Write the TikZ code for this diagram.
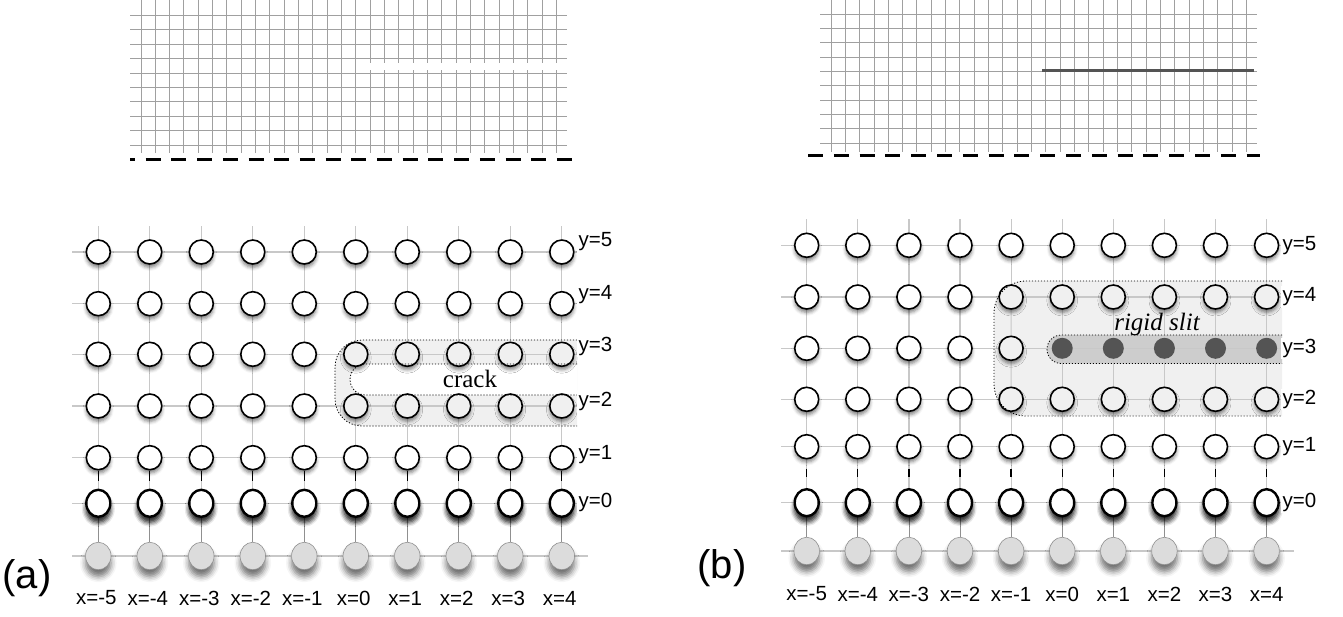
\documentclass[tikz,border=0pt]{standalone}
\usepackage{fontspec}
\setmainfont{Liberation Serif}
\setsansfont{Liberation Sans}
\usetikzlibrary{shapes.geometric,shadows.blur}
\definecolor{gridgray}{HTML}{A0A0A0}
\definecolor{linkgray}{HTML}{C8C8C8}
\definecolor{stemgray}{HTML}{909090}
\definecolor{zonegray}{HTML}{F0F0F0}
\definecolor{slitgray}{HTML}{CDCDCD}
\definecolor{bottomgray}{HTML}{DCDCDC}
\definecolor{rigidgray}{HTML}{545454}
\pgfdeclarelayer{zone}
\pgfdeclarelayer{links}
\pgfsetlayers{zone,links,main}

\begin{document}
\begin{tikzpicture}[x=1pt,y=-1pt]
	\tikzstyle{atom}=[circle,draw=black,fill=white,line width=1.6pt,minimum size=24pt,inner sep=0pt,blur shadow={shadow xshift=0pt,shadow yshift=-3.5pt,shadow blur radius=3.5pt,shadow opacity=50}]
	\tikzstyle{rowzero}=[atom,ellipse,line width=2.4pt,minimum width=24pt,minimum height=27pt,blur shadow={shadow xshift=0pt,shadow yshift=-5.5pt,shadow blur radius=4.5pt,shadow opacity=60}]
	\tikzstyle{substrate}=[ellipse,draw=stemgray,fill=bottomgray,line width=0.6pt,minimum width=25.5pt,minimum height=27.5pt,inner sep=0pt,blur shadow={shadow xshift=0pt,shadow yshift=-7pt,shadow blur radius=5.5pt,shadow opacity=55}]
	\tikzstyle{softatom}=[atom,fill=zonegray]
	\tikzstyle{rigid}=[circle,fill=rigidgray,minimum size=21pt,inner sep=0pt]
	\tikzstyle{rowlabel}=[font=\sffamily\fontsize{20.5}{24}\selectfont,fill=white,inner sep=1.5pt]
	\tikzstyle{link}=[linkgray,line width=1.2pt]
	\tikzstyle{stem}=[stemgray,line width=0.8pt]
	\tikzstyle{border}=[black,line width=0.8pt,dash pattern=on 1.2pt off 1.8pt]
	\useasboundingbox (0,0) rectangle (1343,616);

	\foreach \i in {0,...,29} \draw[gridgray,line width=1pt] ({141+\i*14.33},0) -- ({141+\i*14.33},153);
	\foreach \j in {0,...,9} \draw[gridgray,line width=1pt] (130,{15.3+\j*14.44}) -- (567,{15.3+\j*14.44});
	\draw[white,line width=7pt] (366,66.3) -- (560,66.3);
	\draw[line width=3.3pt,dash pattern=on 15pt off 10.7pt,dash phase=10pt] (130,159.3) -- (573,159.3);

	\foreach \i in {0,...,29} \draw[gridgray,line width=1pt] ({831+\i*14.33},0) -- ({831+\i*14.33},152);
	\foreach \j in {0,...,9} \draw[gridgray,line width=1pt] (820,{14+\j*14.37}) -- (1257,{14+\j*14.37});
	\draw[rigidgray,line width=3pt] (1042,70) -- (1254,70);
	\draw[line width=3.3pt,dash pattern=on 15pt off 10.8pt] (808,155.3) -- (1260,155.3);

	\foreach \x in {0,...,9}{
		\pgfmathsetmacro\xx{98.3+\x*51.5}
		\coordinate (AT\x) at (\xx,226);
		\foreach \j/\yy in {5/252,4/303.7,1/457.7}
			\node[atom] (A\x-\j) at (\xx,\yy) {};
		\node[rowzero] (A\x-0) at (\xx,503.3) {};
		\node[substrate] (A\x-g) at (\xx,556) {};
	}
	\foreach \x in {0,...,4}{
		\pgfmathsetmacro\xx{98.3+\x*51.5}
		\node[atom] (A\x-3) at (\xx,354.3) {};
		\node[atom] (A\x-2) at (\xx,406) {};
	}
	\foreach \x in {5,...,9}{
		\pgfmathsetmacro\xx{98.3+\x*51.5}
		\node[softatom] (A\x-3) at (\xx,354.3) {};
		\node[softatom] (A\x-2) at (\xx,406) {};
	}
	\foreach \j/\yy in {5/252,4/303.7,3/354.3,2/406,1/457.7,0/503.3,g/556}{
		\coordinate (AL\j) at (72,\yy);
		\coordinate (AR\j) at (588,\yy);
	}

	\foreach \x in {0,...,9}{
		\pgfmathsetmacro\xx{806.7+\x*51.1}
		\coordinate (BT\x) at (\xx,219);
		\foreach \j/\yy in {5/245.3,1/446.7}
			\node[atom] (B\x-\j) at (\xx,\yy) {};
		\node[rowzero] (B\x-0) at (\xx,502.7) {};
		\node[substrate] (B\x-g) at (\xx,551) {};
	}
	\foreach \x in {0,...,3}{
		\pgfmathsetmacro\xx{806.7+\x*51.1}
		\foreach \j/\yy in {4/297,3/348.3,2/399.3}
			\node[atom] (B\x-\j) at (\xx,\yy) {};
	}
	\foreach \x in {4,...,9}{
		\pgfmathsetmacro\xx{806.7+\x*51.1}
		\node[softatom] (B\x-4) at (\xx,297) {};
		\node[softatom] (B\x-2) at (\xx,399.3) {};
	}
	\node[softatom] (B4-3) at (1011.1,348.3) {};
	\foreach \x in {5,...,9}{
		\pgfmathsetmacro\xx{806.7+\x*51.1}
		\node[rigid] (B\x-3) at (\xx,348.3) {};
	}
	\foreach \j/\yy in {5/245.3,4/297,3/348.3,2/399.3,1/446.7,0/502.7,g/551}{
		\coordinate (BL\j) at (781,\yy);
		\coordinate (BR\j) at (1294,\yy);
	}

	\begin{pgfonlayer}{zone}
		\fill[zonegray,rounded corners=27pt] (577,340) -- (335,340) -- (335,426) -- (577,426);
		\fill[zonegray,rounded corners=32pt] (1282,281) -- (994,281) -- (994,416) -- (1282,416);
		\fill[slitgray,rounded corners=14.2pt] (1282,335) -- (1047,335) -- (1047,363.5) -- (1282,363.5);
	\end{pgfonlayer}

	\begin{pgfonlayer}{links}
		\foreach \p in {A,B}{
			\foreach \j in {5,4,3,2,1,0,g}{
				\draw[link] (\p L\j) -- (\p0-\j);
				\foreach \x [count=\n] in {0,...,8} \draw[link] (\p\x-\j) -- (\p\n-\j);
				\draw[link] (\p9-\j) -- (\p R\j);
			}
			\foreach \x in {0,...,9}{
				\draw[link] (\p T\x) -- (\p\x-5);
				\foreach \u/\v in {5/4,4/3,3/2,2/1,1/0} \draw[link] (\p\x-\u) -- (\p\x-\v);
				\draw[stem] (\p\x-0) -- (\p\x-g);
			}
		}
		\foreach \x in {0,...,9}{
			\draw[black,line width=1.3pt] (A\x-1.south) -- ++(0,10);
			\draw[black,line width=1.3pt] ([yshift=-9pt]B\x-1.south) -- ++(0,8);
		}
		\fill[white,rounded corners=15.5pt] (577,364) -- (350,364) -- (350,395) -- (577,395);
	\end{pgfonlayer}

	\draw[border,rounded corners=27pt] (577,340) -- (335,340) -- (335,426) -- (577,426);
	\draw[border,rounded corners=15.5pt] (577,364) -- (350,364) -- (350,395) -- (577,395);
	\draw[border,rounded corners=32pt] (1282,281) -- (994,281) -- (994,416) -- (1282,416);
	\draw[border,rounded corners=14.2pt] (1282,335) -- (1047,335) -- (1047,363.5) -- (1282,363.5);

	\node[font=\fontsize{25}{28}\selectfont] (crack) at (470,379) {crack};
	\node[font=\itshape\fontsize{25}{28}\selectfont] (slit) at (1157,324) {rigid slit};

	\foreach \j/\yy in {5/242,4/295,3/346,2/401,1/455,0/502}
		\node[rowlabel,anchor=west] (ya\j) at (577,\yy) {y=\j};
	\foreach \j/\yy in {5/245.3,4/297,3/348.3,2/399.3,1/446.7,0/502.7}
		\node[rowlabel,anchor=west] (yb\j) at (1281,\yy) {y=\j};
	\foreach \x [evaluate=\x as \v using int(\x-5)] in {0,...,9}{
		\node[rowlabel] (xa\x) at ({96.3+\x*51.5},598) {x=\v};
		\node[rowlabel] (xb\x) at ({806.7+\x*51.1},594) {x=\v};
	}
	\node[font=\sffamily\fontsize{40}{44}\selectfont] (pa) at (27,578) {(a)};
	\node[font=\sffamily\fontsize{40}{44}\selectfont] (pb) at (722,568) {(b)};
\end{tikzpicture}
\end{document}
